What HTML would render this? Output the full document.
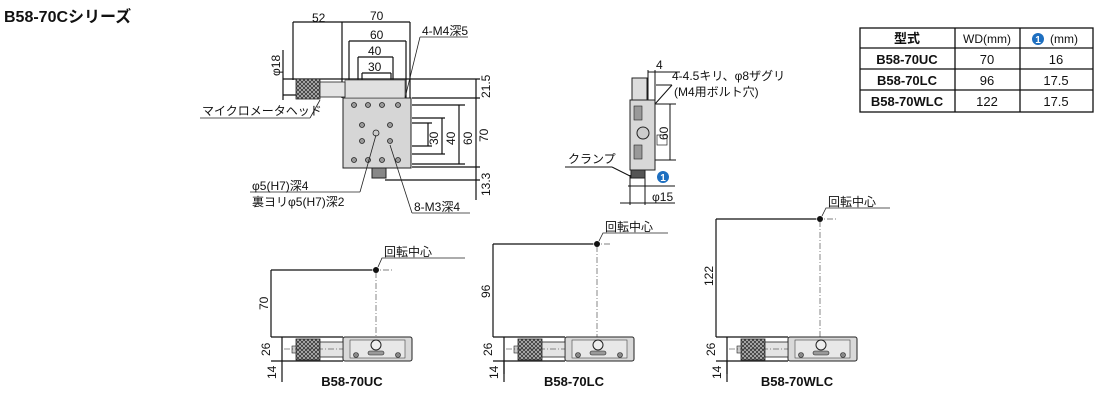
<!DOCTYPE html>
<html><head><meta charset="utf-8"><style>
body{margin:0;background:#fff;width:1100px;height:404px;overflow:hidden}
svg{display:block}
text{font-family:"Liberation Sans","Noto Sans CJK JP",sans-serif;fill:#111}
.t{font-size:12px}
</style></head><body>
<svg width="1100" height="404" viewBox="0 0 1100 404" xmlns="http://www.w3.org/2000/svg">
<defs>
<pattern id="kn" width="4" height="4" patternUnits="userSpaceOnUse">
<rect width="4" height="4" fill="#bbb"/><path d="M0 0L4 4M4 0L0 4" stroke="#333" stroke-width="0.8"/>
</pattern>
<g id="bv">
<rect x="343" y="337" width="69" height="24" rx="2" fill="#d9d9d9" stroke="#222" stroke-width="1"/>
<rect x="350" y="340" width="55" height="18" fill="#e8e8e8" stroke="#444" stroke-width="0.6"/>
<circle cx="376" cy="345" r="5" fill="#eee" stroke="#222"/>
<rect x="368" y="351" width="16" height="4" rx="2" fill="#999" stroke="#222" stroke-width="0.6"/>
<circle cx="356" cy="355" r="2.5" fill="#888" stroke="#222" stroke-width="0.6"/>
<circle cx="398" cy="355" r="2.5" fill="#888" stroke="#222" stroke-width="0.6"/>
<rect x="296" y="339" width="24" height="21" fill="url(#kn)" stroke="#222" stroke-width="0.8"/>
<rect x="320" y="342" width="23" height="15" fill="#e4e4e4" stroke="#222" stroke-width="0.8"/>
<rect x="292" y="346" width="4" height="7" fill="#ccc" stroke="#222" stroke-width="0.6"/>
<line x1="284" y1="349" x2="343" y2="349" stroke="#222" stroke-width="0.6" stroke-dasharray="6 2 1 2"/>
<line x1="271" y1="337" x2="343" y2="337" stroke="#111" stroke-width="1.2"/>
<line x1="271" y1="361" x2="343" y2="361" stroke="#111" stroke-width="1.2"/>
<line x1="282" y1="337" x2="282" y2="361" stroke="#111" stroke-width="1.2"/>
<line x1="282" y1="361" x2="282" y2="382" stroke="#111" stroke-width="1.2"/>
<text x="352" y="386" font-size="13" font-weight="bold" text-anchor="middle">B58-70UC</text>
<text transform="translate(270,356) rotate(-90)" class="t">26</text>
<text transform="translate(276,379) rotate(-90)" class="t">14</text>
</g>
</defs>
<text x="4" y="22" font-size="16" font-weight="bold">B58-70Cシリーズ</text>

<!-- Top view -->
<g stroke="#111" stroke-width="1.2" fill="none">
<line x1="293" y1="22" x2="345" y2="22"/><line x1="345" y1="22" x2="410" y2="22"/>
<line x1="293" y1="22" x2="293" y2="80"/><line x1="342" y1="22" x2="342" y2="98"/><line x1="410" y1="22" x2="410" y2="98"/>
<line x1="349" y1="41" x2="406" y2="41"/><line x1="349" y1="41" x2="349" y2="98"/><line x1="406" y1="41" x2="406" y2="98"/>
<line x1="358" y1="57" x2="393" y2="57"/><line x1="358" y1="57" x2="358" y2="108"/><line x1="393" y1="57" x2="393" y2="108"/>
<line x1="362" y1="73" x2="391" y2="73"/><line x1="362" y1="73" x2="362" y2="115"/><line x1="391" y1="73" x2="391" y2="115"/>
<line x1="283" y1="79" x2="480" y2="79"/><line x1="283" y1="95" x2="300" y2="95"/>
<line x1="283" y1="50" x2="283" y2="100"/>
<line x1="412" y1="98" x2="480" y2="98"/><line x1="476" y1="79" x2="476" y2="200"/>
<line x1="412" y1="105" x2="465" y2="105"/><line x1="412" y1="164" x2="465" y2="164"/><line x1="459" y1="105" x2="459" y2="164"/>
<line x1="412" y1="118" x2="445" y2="118"/><line x1="412" y1="154" x2="445" y2="154"/><line x1="442" y1="118" x2="442" y2="154"/>
<line x1="412" y1="123" x2="432" y2="123"/><line x1="412" y1="146" x2="432" y2="146"/><line x1="428" y1="123" x2="428" y2="146"/>
<line x1="412" y1="167" x2="480" y2="167"/><line x1="385" y1="180" x2="480" y2="180"/>
</g>
<rect x="343" y="98" width="68" height="70" fill="#d6d6d6" stroke="#222"/>
<rect x="345" y="80" width="60" height="18" fill="#e0e0e0" stroke="#444" stroke-width="0.7"/>
<rect x="296" y="79" width="24" height="20" fill="url(#kn)" stroke="#222" stroke-width="0.8"/>
<rect x="320" y="82" width="25" height="15" fill="#e4e4e4" stroke="#222" stroke-width="0.8"/>
<rect x="372" y="168" width="14" height="10" fill="#888" stroke="#222"/>
<g fill="#999" stroke="#222" stroke-width="0.8">
<circle cx="354" cy="105" r="2.5"/><circle cx="368" cy="105" r="2.5"/><circle cx="382" cy="105" r="2.5"/><circle cx="398" cy="105" r="2.5"/>
<circle cx="362" cy="125" r="2.5"/><circle cx="390" cy="125" r="2.5"/><circle cx="362" cy="141" r="2.5"/><circle cx="390" cy="141" r="2.5"/>
<circle cx="354" cy="160" r="2.5"/><circle cx="368" cy="160" r="2.5"/><circle cx="382" cy="160" r="2.5"/><circle cx="398" cy="160" r="2.5"/>
<circle cx="376" cy="133" r="3" fill="#ccc"/>
</g>
<g stroke="#222" stroke-width="0.8" fill="none">
<line x1="420" y1="37" x2="405" y2="98"/><line x1="420" y1="37" x2="468" y2="37"/>
<line x1="320" y1="100" x2="310" y2="118"/><line x1="200" y1="118" x2="310" y2="118"/>
<line x1="376" y1="135" x2="360" y2="192"/><line x1="250" y1="192" x2="360" y2="192"/>
<line x1="390" y1="145" x2="412" y2="213"/><line x1="412" y1="213" x2="470" y2="213"/>
</g>
<text x="312" y="22" class="t">52</text><text x="370" y="20" class="t">70</text>
<text x="370" y="39" class="t">60</text><text x="368" y="55" class="t">40</text><text x="368" y="71" class="t">30</text>
<text transform="translate(280,76) rotate(-90)" class="t">φ18</text>
<text x="422" y="35" class="t">4-M4深5</text>
<text x="202" y="115" class="t">マイクロメータヘッド</text>
<text transform="translate(438,145) rotate(-90)" class="t">30</text>
<text transform="translate(455,145) rotate(-90)" class="t">40</text>
<text transform="translate(472,145) rotate(-90)" class="t">60</text>
<text transform="translate(488,142) rotate(-90)" class="t">70</text>
<text transform="translate(490,98) rotate(-90)" class="t">21.5</text>
<text transform="translate(490,196) rotate(-90)" class="t">13.3</text>
<text x="252" y="190" class="t">φ5(H7)深4</text>
<text x="252" y="206" class="t">裏ヨリφ5(H7)深2</text>
<text x="414" y="211" class="t">8-M3深4</text>

<!-- side view -->
<g stroke="#111" stroke-width="1" fill="none">
<line x1="648" y1="72" x2="680" y2="72"/><line x1="648" y1="70" x2="648" y2="100"/><line x1="655" y1="70" x2="655" y2="100"/>
<line x1="655" y1="104" x2="676" y2="104"/><line x1="655" y1="160" x2="676" y2="160"/><line x1="670" y1="104" x2="670" y2="160"/>
<line x1="628" y1="186" x2="675" y2="186"/><line x1="620" y1="203" x2="675" y2="203"/>
<line x1="630" y1="175" x2="630" y2="205"/><line x1="645" y1="175" x2="645" y2="205"/>
<line x1="656" y1="85" x2="672" y2="85"/><line x1="672" y1="85" x2="655" y2="104"/>
<line x1="565" y1="167" x2="612" y2="167"/><line x1="612" y1="167" x2="630" y2="176"/>
</g>
<rect x="632" y="78" width="15" height="22" fill="#ddd" stroke="#222"/>
<rect x="630" y="100" width="25" height="70" fill="#d8d8d8" stroke="#222"/>
<rect x="634" y="106" width="8" height="14" fill="#999" stroke="#222" stroke-width="0.6"/>
<rect x="634" y="145" width="8" height="14" fill="#999" stroke="#222" stroke-width="0.6"/>
<circle cx="643" cy="133" r="6" fill="#ccc" stroke="#222"/>
<rect x="657" y="135" width="10" height="10" fill="#fff" stroke="#222" stroke-width="0.7"/>
<rect x="631" y="170" width="14" height="8" fill="#555" stroke="#222"/>
<text x="656" y="69" class="t">4</text>
<text x="672" y="80" class="t">4-4.5キリ、φ8ザグリ</text>
<text x="674" y="96" class="t">(M4用ボルト穴)</text>
<text transform="translate(668,140) rotate(-90)" class="t">60</text>
<text x="568" y="163" class="t">クランプ</text>
<circle cx="663" cy="177" r="6" fill="#1e6fc0"/><text x="663" y="181" font-size="10" font-weight="bold" text-anchor="middle" style="fill:#fff">1</text>
<text x="652" y="201" class="t">φ15</text>

<!-- table -->
<g stroke="#111" stroke-width="1.3" fill="none">
<rect x="860" y="28" width="233" height="84"/>
<line x1="860" y1="48" x2="1093" y2="48"/><line x1="860" y1="69" x2="1093" y2="69"/><line x1="860" y1="90" x2="1093" y2="90"/>
<line x1="955" y1="28" x2="955" y2="112"/><line x1="1020" y1="28" x2="1020" y2="112"/>
</g>
<g font-size="13" text-anchor="middle">
<text x="907" y="43" font-weight="bold">型式</text><text x="987" y="43" font-size="12">WD(mm)</text>
<circle cx="1038" cy="39" r="6" fill="#1e6fc0"/><text x="1038" y="43" font-size="10" font-weight="bold" style="fill:#fff">1</text>
<text x="1064" y="43" font-size="12">(mm)</text>
<text x="907" y="64" font-weight="bold">B58-70UC</text><text x="987" y="64">70</text><text x="1056" y="64">16</text>
<text x="907" y="85" font-weight="bold">B58-70LC</text><text x="987" y="85">96</text><text x="1056" y="85">17.5</text>
<text x="907" y="106" font-weight="bold">B58-70WLC</text><text x="987" y="106">122</text><text x="1056" y="106">17.5</text>
</g>

<!-- bottom views -->
<g stroke="#111" stroke-width="1.2" fill="none">
<line x1="271" y1="270" x2="271" y2="337"/><line x1="271" y1="270" x2="372" y2="270"/>
<line x1="493" y1="244" x2="493" y2="337"/><line x1="493" y1="244" x2="593" y2="244"/>
<line x1="716" y1="219" x2="716" y2="337"/><line x1="716" y1="219" x2="816" y2="219"/>
</g>
<g stroke="#555" stroke-width="0.7" stroke-dasharray="6 2 1 2">
<line x1="376" y1="272" x2="376" y2="337"/><line x1="597" y1="246" x2="597" y2="337"/><line x1="820" y1="221" x2="820" y2="337"/>
<line x1="372" y1="270" x2="392" y2="270"/><line x1="593" y1="244" x2="612" y2="244"/><line x1="816" y1="219" x2="836" y2="219"/>
</g>
<circle cx="376" cy="270" r="3" fill="#111"/><circle cx="597" cy="244" r="3" fill="#111"/><circle cx="820" cy="219" r="3" fill="#111"/>
<g stroke="#222" stroke-width="0.8" fill="none">
<polyline points="378,267 382,258 465,258"/><polyline points="599,241 603,233 668,233"/><polyline points="822,216 826,208 890,208"/>
</g>
<text x="384" y="256" class="t">回転中心</text><text x="605" y="231" class="t">回転中心</text><text x="828" y="206" class="t">回転中心</text>
<text transform="translate(268,310) rotate(-90)" class="t">70</text>
<text transform="translate(490,298) rotate(-90)" class="t">96</text>
<text transform="translate(713,286) rotate(-90)" class="t">122</text>
<use href="#bv"/>
<g transform="translate(222,0)"><use href="#bv"/></g>
<g transform="translate(445,0)"><use href="#bv"/></g>
<rect x="500" y="374" width="120" height="16" fill="#fff"/>
<text x="574" y="386" font-size="13" font-weight="bold" text-anchor="middle">B58-70LC</text>
<rect x="722" y="374" width="120" height="16" fill="#fff"/>
<text x="797" y="386" font-size="13" font-weight="bold" text-anchor="middle">B58-70WLC</text>
<line x1="504" y1="361" x2="504" y2="382" stroke="#111" stroke-width="1.2"/>
<line x1="727" y1="361" x2="727" y2="382" stroke="#111" stroke-width="1.2"/>
</svg>
</body></html>
